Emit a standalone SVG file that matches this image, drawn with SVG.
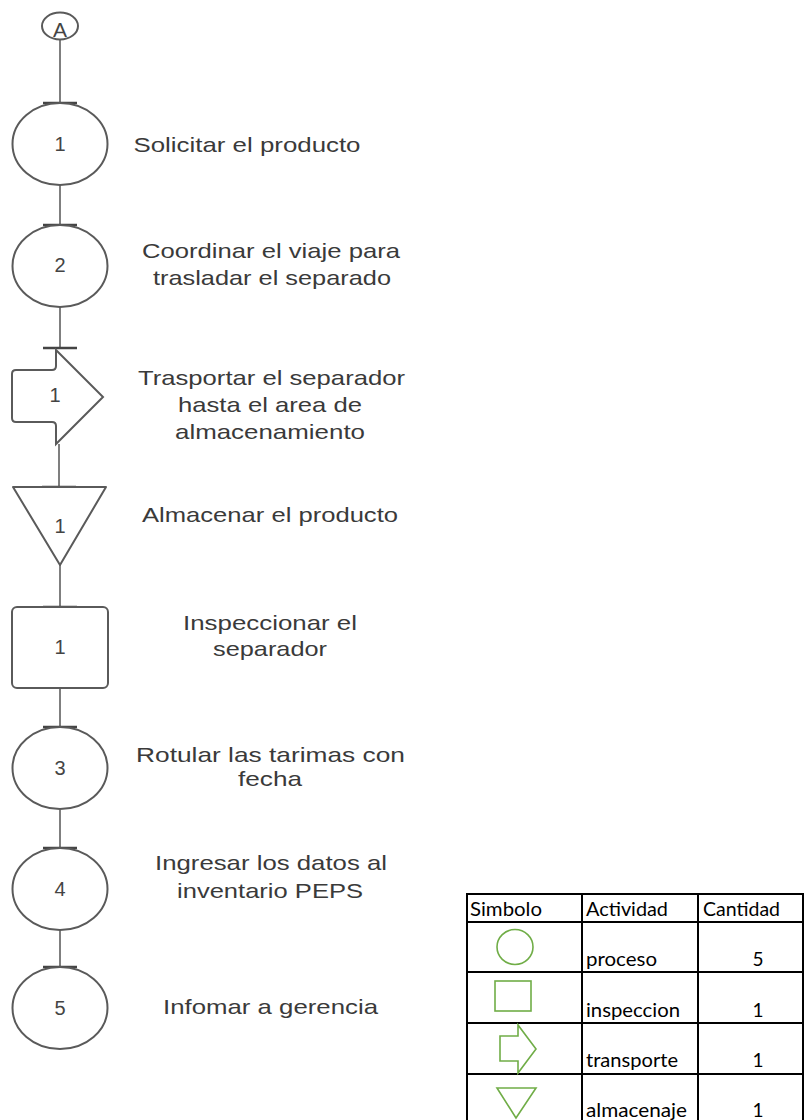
<svg xmlns="http://www.w3.org/2000/svg" width="804" height="1120" viewBox="0 0 804 1120">
<style>
.shape{fill:#fff;stroke:#5a5a5a;stroke-width:2}
.conn{stroke:#555;stroke-width:1.5;fill:none}
.tick{stroke:#444;stroke-width:2.5}
.lbl{font-family:"Liberation Sans",Arial,sans-serif;font-size:21px;fill:#3a3a3a;text-anchor:middle}
.num{font-family:"Liberation Sans",Arial,sans-serif;font-size:20px;fill:#444;text-anchor:middle}
.tbl{stroke:#000;stroke-width:2;fill:none}
.tt{font-family:Lato,"Open Sans",sans-serif;font-size:19px;fill:#000}
.sym{fill:none;stroke:#70AD47;stroke-width:1.6}
</style>
<rect width="804" height="1120" fill="#fff"/>
<g id="connectors">
<line class="conn" x1="60" y1="40" x2="60" y2="103"/>
<line class="conn" x1="60" y1="185" x2="60" y2="225"/>
<line class="conn" x1="60" y1="307" x2="60" y2="348"/>
<line class="conn" x1="59" y1="444" x2="59" y2="487"/>
<line class="conn" x1="60" y1="565" x2="60" y2="607"/>
<line class="conn" x1="60" y1="688" x2="60" y2="727"/>
<line class="conn" x1="60" y1="810" x2="60" y2="848"/>
<line class="conn" x1="60" y1="930" x2="60" y2="967"/>
<line class="tick" x1="43" y1="103" x2="77" y2="103"/>
<line class="tick" x1="43" y1="225" x2="77" y2="225"/>
<line class="tick" x1="43" y1="348" x2="77" y2="348"/>
<line class="tick" x1="42" y1="487" x2="76" y2="487"/>
<line class="tick" x1="43" y1="607" x2="77" y2="607"/>
<line class="tick" x1="43" y1="727" x2="77" y2="727"/>
<line class="tick" x1="43" y1="848" x2="77" y2="848"/>
<line class="tick" x1="43" y1="967" x2="77" y2="967"/>
</g>
<g id="nodeA">
<ellipse class="shape" cx="60" cy="26" rx="18" ry="13.5"/>
<text x="60" y="37" class="num" style="font-size:21px">A</text>
</g>
<g id="node-proceso-1">
<ellipse class="shape" cx="60" cy="144" rx="47.5" ry="41"/>
<text x="60" y="151" class="num">1</text>
<text x="247" y="152" class="lbl" textLength="227" lengthAdjust="spacingAndGlyphs">Solicitar el producto</text>
</g>
<g id="node-proceso-2">
<ellipse class="shape" cx="60" cy="266" rx="47.5" ry="41"/>
<text x="60" y="272" class="num">2</text>
<text x="271" y="258" class="lbl" textLength="258" lengthAdjust="spacingAndGlyphs">Coordinar el viaje para</text>
<text x="272" y="285" class="lbl" textLength="238" lengthAdjust="spacingAndGlyphs">trasladar el separado</text>
</g>
<g id="node-transporte-1">
<path class="shape" d="M56,350 L103,397 L56,444 L56,426 Q56,422 52,422 L16,422 Q12,422 12,418 L12,374 Q12,370 16,370 L52,370 Q56,370 56,366 Z"/>
<text x="55" y="402" class="num">1</text>
<text x="271.5" y="385" class="lbl" textLength="267" lengthAdjust="spacingAndGlyphs">Trasportar el separador</text>
<text x="270" y="412" class="lbl" textLength="184" lengthAdjust="spacingAndGlyphs">hasta el area de</text>
<text x="270" y="439" class="lbl" textLength="190" lengthAdjust="spacingAndGlyphs">almacenamiento</text>
</g>
<g id="node-almacenaje-1">
<path class="shape" d="M13,487 L106,487 L60,565 Z" stroke-linejoin="round"/>
<text x="60" y="533" class="num">1</text>
<text x="270" y="522" class="lbl" textLength="256" lengthAdjust="spacingAndGlyphs">Almacenar el producto</text>
</g>
<g id="node-inspeccion-1">
<rect class="shape" x="12" y="607" width="96" height="81" rx="5"/>
<text x="60" y="654" class="num">1</text>
<text x="270" y="630" class="lbl" textLength="174" lengthAdjust="spacingAndGlyphs">Inspeccionar el</text>
<text x="270" y="656" class="lbl" textLength="114" lengthAdjust="spacingAndGlyphs">separador</text>
</g>
<g id="node-proceso-3">
<ellipse class="shape" cx="60" cy="768" rx="47.5" ry="41"/>
<text x="60" y="775" class="num">3</text>
<text x="270.5" y="762" class="lbl" textLength="269" lengthAdjust="spacingAndGlyphs">Rotular las tarimas con</text>
<text x="270" y="786" class="lbl" textLength="64" lengthAdjust="spacingAndGlyphs">fecha</text>
</g>
<g id="node-proceso-4">
<ellipse class="shape" cx="60" cy="889" rx="47.5" ry="41"/>
<text x="60" y="896" class="num">4</text>
<text x="271" y="870" class="lbl" textLength="232" lengthAdjust="spacingAndGlyphs">Ingresar los datos al</text>
<text x="270" y="898" class="lbl" textLength="186" lengthAdjust="spacingAndGlyphs">inventario PEPS</text>
</g>
<g id="node-proceso-5">
<ellipse class="shape" cx="60" cy="1008" rx="47.5" ry="41"/>
<text x="60" y="1015" class="num">5</text>
<text x="270.5" y="1014" class="lbl" textLength="215" lengthAdjust="spacingAndGlyphs">Infomar a gerencia</text>
</g>
<g id="summary-table">
<line class="tbl" x1="466" y1="894" x2="804" y2="894"/>
<line class="tbl" x1="466" y1="922" x2="804" y2="922"/>
<line class="tbl" x1="466" y1="972" x2="804" y2="972"/>
<line class="tbl" x1="466" y1="1023" x2="804" y2="1023"/>
<line class="tbl" x1="466" y1="1074" x2="804" y2="1074"/>
<line class="tbl" x1="467" y1="893" x2="467" y2="1120"/>
<line class="tbl" x1="582" y1="893" x2="582" y2="1120"/>
<line class="tbl" x1="698" y1="893" x2="698" y2="1120"/>
<line class="tbl" x1="803" y1="893" x2="803" y2="1120"/>
<text class="tt" x="470" y="916" textLength="72" lengthAdjust="spacingAndGlyphs">Simbolo</text>
<text class="tt" x="586" y="916" textLength="82" lengthAdjust="spacingAndGlyphs">Actividad</text>
<text class="tt" x="703" y="916" textLength="77" lengthAdjust="spacingAndGlyphs">Cantidad</text>
<ellipse class="sym" cx="515" cy="947" rx="18" ry="17.5"/>
<text class="tt" x="586" y="966" textLength="71" lengthAdjust="spacingAndGlyphs">proceso</text>
<text class="tt" x="758" y="966" text-anchor="middle">5</text>
<rect class="sym" x="495" y="981" width="36" height="30"/>
<text class="tt" x="586" y="1017" textLength="94" lengthAdjust="spacingAndGlyphs">inspeccion</text>
<text class="tt" x="758" y="1017" text-anchor="middle">1</text>
<path class="sym" d="M500,1036 L518,1036 L518,1025 L536,1049 L518,1073 L518,1061 L500,1061 Z"/>
<text class="tt" x="586" y="1067" textLength="92" lengthAdjust="spacingAndGlyphs">transporte</text>
<text class="tt" x="758" y="1067" text-anchor="middle">1</text>
<path class="sym" d="M497,1088 L536,1088 L516,1118 Z"/>
<text class="tt" x="586" y="1117" textLength="101" lengthAdjust="spacingAndGlyphs">almacenaje</text>
<text class="tt" x="758" y="1117" text-anchor="middle">1</text>
</g>
</svg>
